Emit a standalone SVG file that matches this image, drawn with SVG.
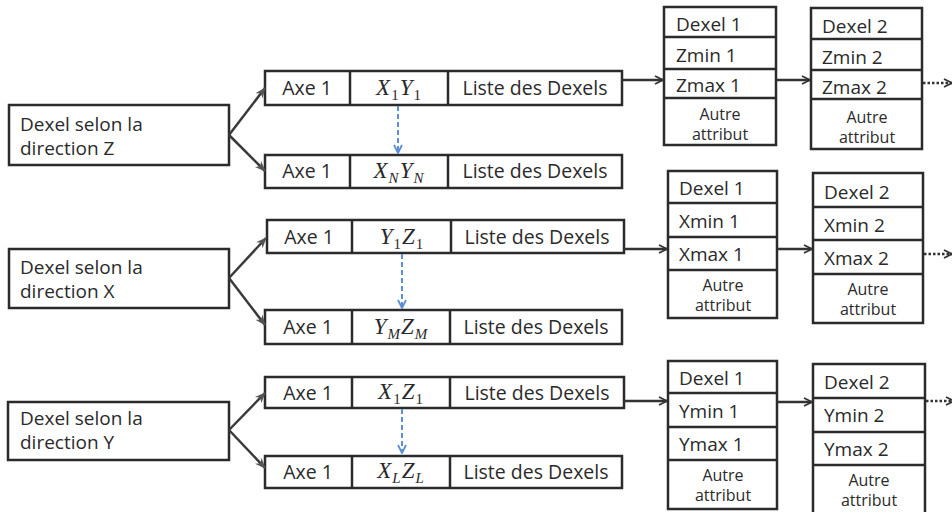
<svg xmlns="http://www.w3.org/2000/svg" width="952" height="512" viewBox="0 0 952 512">
<defs>
<style>
.box{fill:#fff;stroke:#2b2b2b;stroke-width:2.5}
.div{stroke:#2b2b2b;stroke-width:2.5}
.t{font-family:"Open Sans","Liberation Sans",sans-serif;font-size:19px;fill:#2a2a2a}
.tc{font-family:"Open Sans","Liberation Sans",sans-serif;font-size:19.5px;fill:#2a2a2a;text-anchor:middle}
.ts{font-family:"Open Sans","Liberation Sans",sans-serif;font-size:16px;fill:#2a2a2a;text-anchor:middle}
.m{font-family:"Liberation Serif",serif;font-style:italic;font-size:23px;fill:#2a2a2a;text-anchor:middle;letter-spacing:1px}
.sub{font-size:15px}
.sub1{font-size:15px;font-style:normal}
.ln{stroke:#333;stroke-width:2.5;fill:none}
.fork{stroke:#3a3a3a;stroke-width:2.5;fill:none}
.dash{stroke:#5b8fd6;stroke-width:2;stroke-dasharray:5 3;fill:none}
.dot{stroke:#333;stroke-width:2.5;stroke-dasharray:2.5 2;fill:none}
</style>
<marker id="open" viewBox="0 0 10 10" refX="9" refY="5" markerWidth="10" markerHeight="10" markerUnits="userSpaceOnUse" orient="auto">
<path d="M1,1 L9,5 L1,9" fill="none" stroke="#333" stroke-width="1.8"/>
</marker>
<marker id="fk" viewBox="0 0 10 10" refX="9" refY="5" markerWidth="11" markerHeight="11" markerUnits="userSpaceOnUse" orient="auto">
<path d="M0,1 L10,5 L0,9 L3,5 Z" fill="#555"/>
</marker>
<marker id="blue" viewBox="0 0 10 10" refX="9" refY="5" markerWidth="10" markerHeight="10" markerUnits="userSpaceOnUse" orient="auto">
<path d="M1,1 L9,5 L1,9" fill="none" stroke="#5b8fd6" stroke-width="1.8"/>
</marker>
</defs>
<rect width="952" height="512" fill="#fff"/>

<!-- Group Z -->
<g id="dirZ">
<rect class="box" x="9" y="105" width="220" height="60"/>
<text class="t" x="20" y="131">Dexel selon la</text>
<text class="t" x="20" y="155">direction Z</text>
</g>
<g id="rowZ1">
<rect class="box" x="265" y="71" width="357" height="34"/>
<line class="div" x1="350" y1="71" x2="350" y2="105"/>
<line class="div" x1="448" y1="71" x2="448" y2="105"/>
<text class="tc" x="307" y="95">Axe 1</text>
<text class="m" x="399" y="95">X<tspan class="sub1" dy="5">1</tspan><tspan dy="-5">Y</tspan><tspan class="sub1" dy="5">1</tspan></text>
<text class="tc" x="535" y="95">Liste des Dexels</text>
</g>
<g id="rowZN">
<rect class="box" x="265" y="155" width="357" height="33"/>
<line class="div" x1="350" y1="155" x2="350" y2="188"/>
<line class="div" x1="448" y1="155" x2="448" y2="188"/>
<text class="tc" x="307" y="178">Axe 1</text>
<text class="m" x="399" y="178">X<tspan class="sub" dy="5">N</tspan><tspan dy="-5">Y</tspan><tspan class="sub" dy="5">N</tspan></text>
<text class="tc" x="535" y="178">Liste des Dexels</text>
</g>
<g id="dexelZ1">
<rect class="box" x="664" y="7" width="112" height="138"/>
<line class="div" x1="664" y1="37" x2="776" y2="37"/>
<line class="div" x1="664" y1="69" x2="776" y2="69"/>
<line class="div" x1="664" y1="98" x2="776" y2="98"/>
<text class="t" x="676" y="31">Dexel 1</text>
<text class="t" x="676" y="62">Zmin 1</text>
<text class="t" x="676" y="92">Zmax 1</text>
<text class="ts" x="720" y="120">Autre</text>
<text class="ts" x="720" y="140">attribut</text>
</g>
<g id="dexelZ2">
<rect class="box" x="811" y="8" width="111" height="141"/>
<line class="div" x1="811" y1="39" x2="922" y2="39"/>
<line class="div" x1="811" y1="70" x2="922" y2="70"/>
<line class="div" x1="811" y1="99" x2="922" y2="99"/>
<text class="t" x="822" y="33">Dexel 2</text>
<text class="t" x="822" y="64">Zmin 2</text>
<text class="t" x="822" y="94">Zmax 2</text>
<text class="ts" x="867" y="123">Autre</text>
<text class="ts" x="867" y="143">attribut</text>
</g>

<!-- Group X -->
<g id="dirX">
<rect class="box" x="9" y="249" width="220" height="59"/>
<text class="t" x="20" y="274">Dexel selon la</text>
<text class="t" x="20" y="298">direction X</text>
</g>
<g id="rowX1">
<rect class="box" x="267" y="220" width="357" height="33"/>
<line class="div" x1="352" y1="220" x2="352" y2="253"/>
<line class="div" x1="451" y1="220" x2="451" y2="253"/>
<text class="tc" x="309" y="244">Axe 1</text>
<text class="m" x="402" y="244">Y<tspan class="sub1" dy="5">1</tspan><tspan dy="-5">Z</tspan><tspan class="sub1" dy="5">1</tspan></text>
<text class="tc" x="537" y="244">Liste des Dexels</text>
</g>
<g id="rowXM">
<rect class="box" x="265" y="310" width="357" height="34"/>
<line class="div" x1="352" y1="310" x2="352" y2="344"/>
<line class="div" x1="450" y1="310" x2="450" y2="344"/>
<text class="tc" x="308" y="334">Axe 1</text>
<text class="m" x="401" y="334">Y<tspan class="sub" dy="5">M</tspan><tspan dy="-5">Z</tspan><tspan class="sub" dy="5">M</tspan></text>
<text class="tc" x="536" y="334">Liste des Dexels</text>
</g>
<g id="dexelX1">
<rect class="box" x="668" y="171" width="109" height="147"/>
<line class="div" x1="668" y1="203" x2="777" y2="203"/>
<line class="div" x1="668" y1="237" x2="777" y2="237"/>
<line class="div" x1="668" y1="270" x2="777" y2="270"/>
<text class="t" x="679" y="195">Dexel 1</text>
<text class="t" x="679" y="228">Xmin 1</text>
<text class="t" x="679" y="261">Xmax 1</text>
<text class="ts" x="723" y="291">Autre</text>
<text class="ts" x="723" y="311">attribut</text>
</g>
<g id="dexelX2">
<rect class="box" x="813" y="173" width="110" height="150"/>
<line class="div" x1="813" y1="207" x2="923" y2="207"/>
<line class="div" x1="813" y1="240" x2="923" y2="240"/>
<line class="div" x1="813" y1="274" x2="923" y2="274"/>
<text class="t" x="824" y="199">Dexel 2</text>
<text class="t" x="824" y="232">Xmin 2</text>
<text class="t" x="824" y="265">Xmax 2</text>
<text class="ts" x="868" y="295">Autre</text>
<text class="ts" x="868" y="315">attribut</text>
</g>

<!-- Group Y -->
<g id="dirY">
<rect class="box" x="8" y="402" width="221" height="58"/>
<text class="t" x="20" y="425">Dexel selon la</text>
<text class="t" x="20" y="449">direction Y</text>
</g>
<g id="rowY1">
<rect class="box" x="265" y="377" width="359" height="31"/>
<line class="div" x1="352" y1="377" x2="352" y2="408"/>
<line class="div" x1="450" y1="377" x2="450" y2="408"/>
<text class="tc" x="308" y="400">Axe 1</text>
<text class="m" x="401" y="399">X<tspan class="sub1" dy="5">1</tspan><tspan dy="-5">Z</tspan><tspan class="sub1" dy="5">1</tspan></text>
<text class="tc" x="537" y="400">Liste des Dexels</text>
</g>
<g id="rowYL">
<rect class="box" x="265" y="456" width="357" height="32"/>
<line class="div" x1="352" y1="456" x2="352" y2="488"/>
<line class="div" x1="450" y1="456" x2="450" y2="488"/>
<text class="tc" x="308" y="479">Axe 1</text>
<text class="m" x="401" y="478">X<tspan class="sub" dy="5">L</tspan><tspan dy="-5">Z</tspan><tspan class="sub" dy="5">L</tspan></text>
<text class="tc" x="536" y="479">Liste des Dexels</text>
</g>
<g id="dexelY1">
<rect class="box" x="668" y="361" width="109" height="148"/>
<line class="div" x1="668" y1="393" x2="777" y2="393"/>
<line class="div" x1="668" y1="427" x2="777" y2="427"/>
<line class="div" x1="668" y1="460" x2="777" y2="460"/>
<text class="t" x="679" y="385">Dexel 1</text>
<text class="t" x="679" y="418">Ymin 1</text>
<text class="t" x="679" y="451">Ymax 1</text>
<text class="ts" x="723" y="481">Autre</text>
<text class="ts" x="723" y="501">attribut</text>
</g>
<g id="dexelY2">
<rect class="box" x="813" y="364" width="112" height="152"/>
<line class="div" x1="813" y1="398" x2="925" y2="398"/>
<line class="div" x1="813" y1="432" x2="925" y2="432"/>
<line class="div" x1="813" y1="465" x2="925" y2="465"/>
<text class="t" x="824" y="389">Dexel 2</text>
<text class="t" x="824" y="422">Ymin 2</text>
<text class="t" x="824" y="456">Ymax 2</text>
<text class="ts" x="869" y="486">Autre</text>
<text class="ts" x="869" y="506">attribut</text>
</g>

<g id="connectors">
<line class="fork" x1="229" y1="135" x2="265" y2="88" marker-end="url(#fk)"/>
<line class="fork" x1="229" y1="135" x2="265" y2="171" marker-end="url(#fk)"/>
<line class="fork" x1="229" y1="278" x2="266" y2="238" marker-end="url(#fk)"/>
<line class="fork" x1="229" y1="278" x2="265" y2="325" marker-end="url(#fk)"/>
<line class="fork" x1="229" y1="430" x2="265" y2="393" marker-end="url(#fk)"/>
<line class="fork" x1="229" y1="430" x2="265" y2="468" marker-end="url(#fk)"/>
<line class="dash" x1="398" y1="106" x2="398" y2="153" marker-end="url(#blue)"/>
<line class="dash" x1="402" y1="254" x2="402" y2="308" marker-end="url(#blue)"/>
<line class="dash" x1="402" y1="409" x2="402" y2="453" marker-end="url(#blue)"/>
<line class="ln" x1="622" y1="80" x2="663" y2="80" marker-end="url(#open)"/>
<line class="ln" x1="776" y1="80" x2="810" y2="80" marker-end="url(#open)"/>
<line class="ln" x1="624" y1="249" x2="667" y2="249" marker-end="url(#open)"/>
<line class="ln" x1="777" y1="249" x2="812" y2="249" marker-end="url(#open)"/>
<line class="ln" x1="624" y1="401" x2="667" y2="401" marker-end="url(#open)"/>
<line class="ln" x1="777" y1="402" x2="812" y2="402" marker-end="url(#open)"/>
<line class="dot" x1="923" y1="83" x2="952" y2="83" marker-end="url(#open)"/>
<line class="dot" x1="924" y1="254" x2="952" y2="254" marker-end="url(#open)"/>
<line class="dot" x1="926" y1="401" x2="954" y2="401" marker-end="url(#open)"/>
</g>
</svg>
